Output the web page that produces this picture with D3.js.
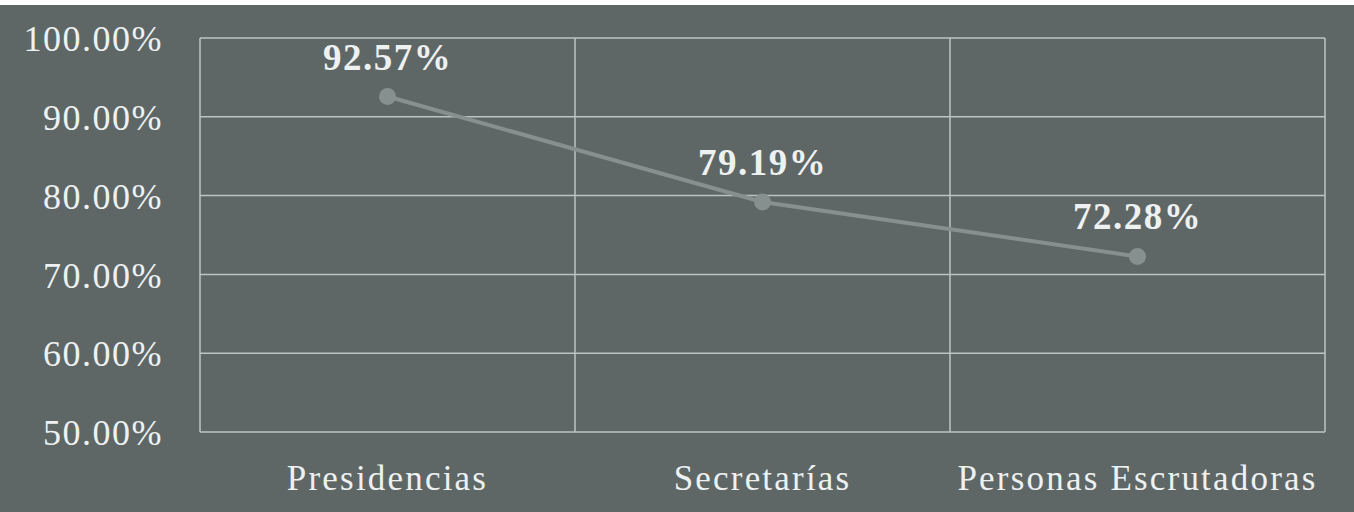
<!DOCTYPE html>
<html>
<head>
<meta charset="utf-8">
<script src="https://cdn.jsdelivr.net/npm/d3@7"></script>
<style>
  html, body { margin: 0; padding: 0; background: #ffffff; }
  svg { display: block; }
</style>
</head>
<body>
<svg id="chart" width="1354" height="512"></svg>
<script>
// data
var categories = ["Presidencias", "Secretarías", "Personas Escrutadoras"];
var values = [92.57, 79.19, 72.28];
var yTicks = [50, 60, 70, 80, 90, 100];

var width = 1354, height = 512;
var margin = {top: 38, right: 29, bottom: 80, left: 200};

var svg = d3.select("#chart");

// scanned grey page
svg.append("rect")
  .attr("x", 0).attr("y", 5)
  .attr("width", width).attr("height", height - 5)
  .attr("fill", "#5e6766");

var x = d3.scaleBand()
  .domain(categories)
  .range([margin.left, width - margin.right]);

var y = d3.scaleLinear()
  .domain([50, 100])
  .range([height - margin.bottom, margin.top]);

var gridColor = "#bcc4c3";
var textColor = "#eef1f1";

// horizontal grid
svg.append("g")
  .selectAll("line")
  .data(yTicks)
  .enter()
  .append("line")
  .attr("x1", margin.left)
  .attr("x2", width - margin.right)
  .attr("y1", function(d) { return y(d); })
  .attr("y2", function(d) { return y(d); })
  .attr("stroke", gridColor)
  .attr("stroke-width", 1.5);

// vertical band separators
var edges = [margin.left].concat(categories.map(function(c) { return x(c) + x.bandwidth(); }));
svg.append("g")
  .selectAll("line")
  .data(edges)
  .enter()
  .append("line")
  .attr("x1", function(d) { return d; })
  .attr("x2", function(d) { return d; })
  .attr("y1", y(100))
  .attr("y2", y(50))
  .attr("stroke", gridColor)
  .attr("stroke-width", 1.5);

// y axis labels
var yAxis = d3.axisLeft(y)
  .tickValues(yTicks)
  .tickSize(0)
  .tickPadding(37)
  .tickFormat(function(d) { return d.toFixed(2) + "%"; });

var gy = svg.append("g")
  .attr("transform", "translate(" + margin.left + ",0)")
  .call(yAxis);
gy.select(".domain").remove();
gy.selectAll("text")
  .attr("fill", textColor)
  .attr("font-family", "'Liberation Serif', serif")
  .attr("font-size", 36)
  .attr("letter-spacing", 1.5)
  .attr("dy", "0.35em");

// x axis labels
var xAxis = d3.axisBottom(x).tickSize(0).tickPadding(0);
var gx = svg.append("g")
  .attr("transform", "translate(0," + y(50) + ")")
  .call(xAxis);
gx.select(".domain").remove();
gx.selectAll("text")
  .attr("fill", textColor)
  .attr("font-family", "'Liberation Serif', serif")
  .attr("font-size", 35)
  .attr("letter-spacing", 2.2)
  .attr("dy", null)
  .attr("y", 58);

var pts = categories.map(function(c, i) { return [x(c) + x.bandwidth() / 2, y(values[i])]; });

var lineColor = "#85908f";
svg.append("path")
  .datum(pts)
  .attr("d", d3.line())
  .attr("fill", "none")
  .attr("stroke", lineColor)
  .attr("stroke-width", 4);

svg.append("g")
  .selectAll("circle")
  .data(pts)
  .enter()
  .append("circle")
  .attr("cx", function(d) { return d[0]; })
  .attr("cy", function(d) { return d[1]; })
  .attr("r", 8.5)
  .attr("fill", lineColor);

// data labels
svg.append("g")
  .selectAll("text")
  .data(values)
  .enter()
  .append("text")
  .attr("x", function(d, i) { return pts[i][0]; })
  .attr("y", function(d, i) { return pts[i][1] - 27; })
  .attr("text-anchor", "middle")
  .attr("fill", textColor)
  .attr("font-family", "'Liberation Serif', serif")
  .attr("font-weight", "bold")
  .attr("font-size", 37)
  .attr("letter-spacing", 1.5)
  .text(function(d) { return d.toFixed(2) + "%"; });
</script>
</body>
</html>
